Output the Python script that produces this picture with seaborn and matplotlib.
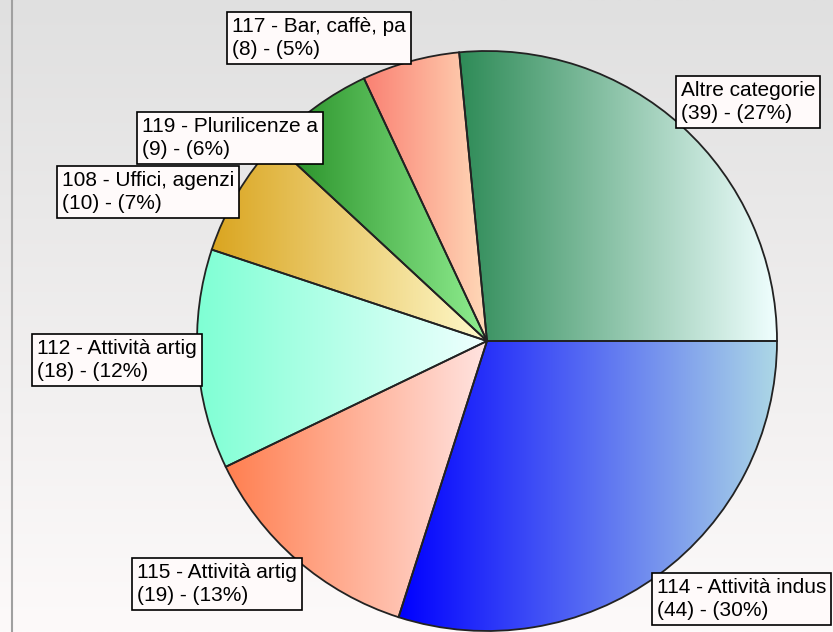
import numpy as np
import seaborn as sns
import matplotlib.pyplot as plt

# === Dati ===
categorie = ["Altre categorie", "117 - Bar, caffè, pa", "119 - Plurilicenze a",
             "108 - Uffici, agenzi", "112 - Attività artig", "115 - Attività artig",
             "114 - Attività indus"]
conteggi = [39, 8, 9, 10, 18, 19, 44]
percentuali = [27, 5, 6, 7, 12, 13, 30]
colori_inizio = ["#2E8B57", "#FA8072", "#228B22", "#DAA520", "#7FFFD4", "#FF7F50", "#0000FF"]
colori_fine = ["#F0FFFF", "#FFDAB9", "#90EE90", "#FFFACD", "#F0FFFF", "#FFE4E1", "#ADD8E6"]

# posizione (angolo in alto a sinistra, pixel dall'alto) dei riquadri etichetta
pos_etichette = [(676, 76), (227, 12), (137, 112), (57, 166), (32, 334), (132, 558), (652, 573)]

sns.set_theme(style="white")
plt.rcParams["font.family"] = ["Liberation Sans", "DejaVu Sans"]

W, H = 833, 632
fig = plt.figure(figsize=(W / 100, H / 100), dpi=100)
ax = fig.add_axes([0, 0, 1, 1])
ax.set_axis_off()

# sfondo sfumato
sfondo = sns.blend_palette(["#E0E0E0", "#FDFAFA"], n_colors=256, as_cmap=True)
ax.imshow(np.linspace(0, 1, 256).reshape(-1, 1), cmap=sfondo, extent=[0, W, 0, H],
          aspect="auto", zorder=-5)
ax.plot([12, 12], [0, H], color="#A0A0A0", lw=1.5, zorder=-4)

# === Torta ===
centro = (487, H - 341)
raggio = 290
wedges, _ = ax.pie(conteggi, center=centro, radius=raggio, startangle=0, counterclock=True,
                   wedgeprops=dict(edgecolor="#222222", linewidth=1.3))

for w, c0, c1 in zip(wedges, colori_inizio, colori_fine):
    w.set_facecolor("none")
    w.set_zorder(2)
    x0, y0, x1, y1 = w.get_path().get_extents().extents
    cmap = sns.blend_palette([c0, c1], n_colors=256, as_cmap=True)
    im = ax.imshow(np.linspace(0, 1, 256).reshape(1, -1), cmap=cmap,
                   extent=[x0, x1, y0, y1], aspect="auto", zorder=1)
    im.set_clip_path(w)

# === Etichette ===
pad = 5
for nome, n, p, (bx, by) in zip(categorie, conteggi, percentuali, pos_etichette):
    ax.text(bx + pad, H - by - pad, f"{nome}\n({n}) - ({p}%)", ha="left", va="top",
            fontsize=15, color="black", linespacing=1.25, zorder=5,
            bbox=dict(boxstyle="square,pad=0.24", facecolor="#FFFAFA", edgecolor="black", linewidth=1.2))

ax.set_xlim(0, W)
ax.set_ylim(0, H)
ax.set_aspect("auto")

plt.savefig("out.png", dpi=100)
